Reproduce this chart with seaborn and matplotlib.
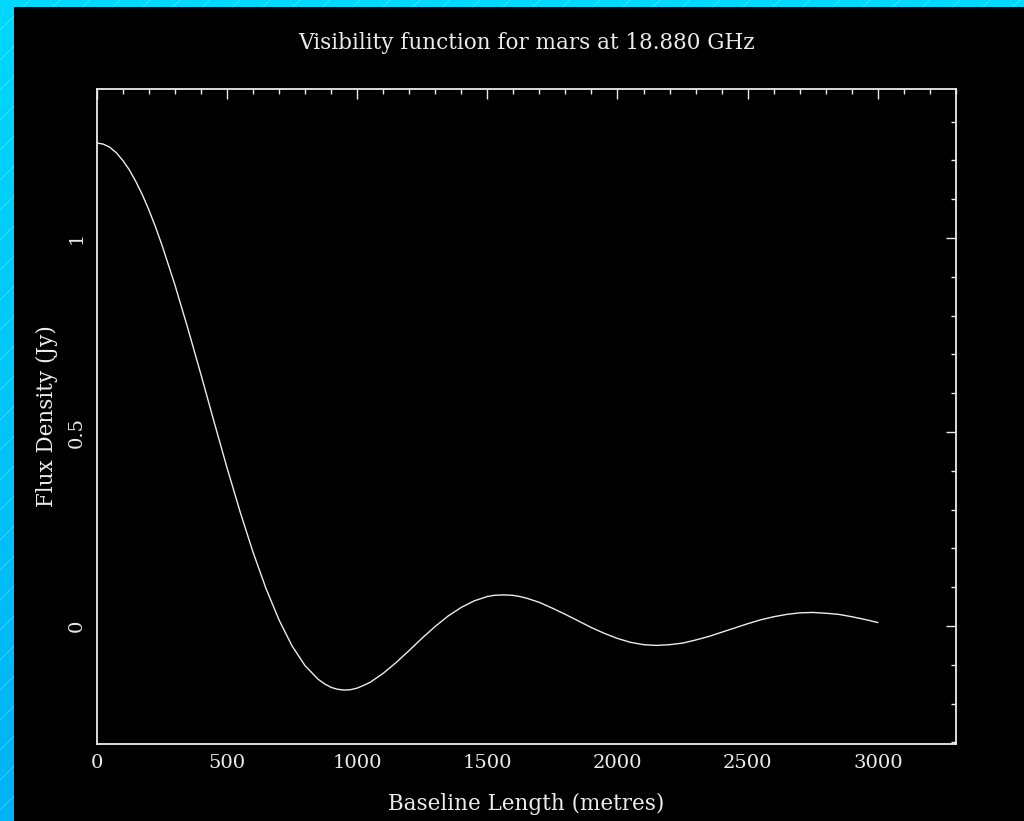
import numpy as np
import pandas as pd
import matplotlib
matplotlib.use("Agg")
import matplotlib.pyplot as plt
from matplotlib.colors import LinearSegmentedColormap
from matplotlib.ticker import MultipleLocator
import seaborn as sns

# Visibility amplitude of Mars versus baseline length
baseline_m = [
    0, 25, 50, 75, 100, 125, 150, 175, 200, 225, 250, 300, 350, 400, 450,
    500, 550, 600, 650, 700, 750, 800, 850, 875, 900, 925, 950,
    975, 1000, 1025, 1050, 1100, 1150, 1200, 1250, 1300, 1350, 1400, 1450,
    1500, 1525, 1550, 1575, 1600, 1625, 1650, 1700, 1750, 1800, 1850, 1900, 1950,
    2000, 2050, 2100, 2150, 2200, 2250, 2300, 2350, 2400, 2450,
    2500, 2550, 2600, 2650, 2700, 2750, 2800, 2850, 2900, 2950,
    3000,
]
flux_jy = [
    1.245, 1.242, 1.234, 1.220, 1.200, 1.176, 1.146, 1.112, 1.073, 1.030, 0.983,
    0.880, 0.767, 0.649, 0.528,
    0.409, 0.296, 0.191, 0.097, 0.016, -0.051, -0.102, -0.137, -0.149, -0.158,
    -0.163, -0.165,
    -0.164, -0.160, -0.153, -0.145, -0.122, -0.094, -0.063, -0.031, -0.001, 0.026,
    0.048, 0.065,
    0.076, 0.079, 0.080, 0.080, 0.079, 0.076, 0.072, 0.061, 0.046, 0.030, 0.013,
    -0.004, -0.019,
    -0.032, -0.042, -0.048, -0.050, -0.048, -0.044, -0.036, -0.027, -0.016, -0.005,
    0.006, 0.016, 0.024, 0.030, 0.034, 0.035, 0.033, 0.030, 0.024, 0.017,
    0.009,
]
x_major_ticks = [0, 500, 1000, 1500, 2000, 2500, 3000]
y_major_ticks = [0, 0.5, 1]
y_tick_labels = ["0", "0.5", "1"]

title_text = "Visibility function for mars at 18.880 GHz"
x_label = "Baseline Length (metres)"
y_label = "Flux Density (Jy)"

df = pd.DataFrame({"baseline": baseline_m, "flux": flux_jy})

sns.set_theme(style="white")
plt.rcParams["font.family"] = ["DejaVu Serif"]
plt.rcParams["text.color"] = "#ececec"

FG = "#ececec"
W, H = 1024, 821
fig = plt.figure(figsize=(W / 100, H / 100), dpi=100, facecolor="black")

# Cyan frame strips along the left and top edges
bg = fig.add_axes([0, 0, 1, 1], zorder=-10)
edge_cmap = LinearSegmentedColormap.from_list("edge", ["#00d8ff", "#00b2f6"])
grad = np.linspace(0, 1, 256)[:, None]
bg.imshow(grad, extent=(0, 14, H, 0), cmap=edge_cmap, aspect="auto", origin="upper")
bg.imshow(np.zeros((2, 2)), extent=(0, W, 7, 0), cmap=edge_cmap, vmin=0, vmax=1,
          aspect="auto", origin="upper")
for c in range(0, W + H, 30):
    bg.plot([0, 14], [c, c - 14], color="white", alpha=0.3, lw=0.6)
    bg.plot([c - 7, c], [7, 0], color="white", alpha=0.3, lw=0.6)
bg.set_xlim(0, W)
bg.set_ylim(H, 0)
bg.axis("off")

left, right, top, bottom = 96.7, 956.0, 89.0, 744.0
ax = fig.add_axes([left / W, 1 - bottom / H, (right - left) / W, (bottom - top) / H])
ax.set_facecolor("black")

sns.lineplot(data=df, x="baseline", y="flux", ax=ax, color=FG, linewidth=1.0)

ax.set_xlim(0, 3300)
ax.set_ylim(-0.304, 1.384)

for sp in ax.spines.values():
    sp.set_color(FG)
    sp.set_linewidth(1.3)

ax.set_xticks(x_major_ticks)
ax.set_yticks(y_major_ticks, labels=y_tick_labels, rotation=90, va="center")
ax.xaxis.set_minor_locator(MultipleLocator(100))
ax.yaxis.set_minor_locator(MultipleLocator(0.1))
ax.tick_params(which="both", direction="in", top=True, right=True,
               colors=FG, labelcolor=FG, width=1.0, labelsize=14)
ax.tick_params(which="major", length=7.2)
ax.tick_params(which="minor", length=3.6)
ax.tick_params(axis="x", which="major", pad=7)
ax.tick_params(axis="y", which="major", pad=8)

ax.set_title(title_text, color=FG, fontsize=15.5, pad=29)
ax.set_xlabel(x_label, color=FG, fontsize=15.5, labelpad=15)
ax.set_ylabel(y_label, color=FG, fontsize=15.5, labelpad=7)
ax.grid(False)

fig.savefig("out.png", dpi=100, facecolor="black")
